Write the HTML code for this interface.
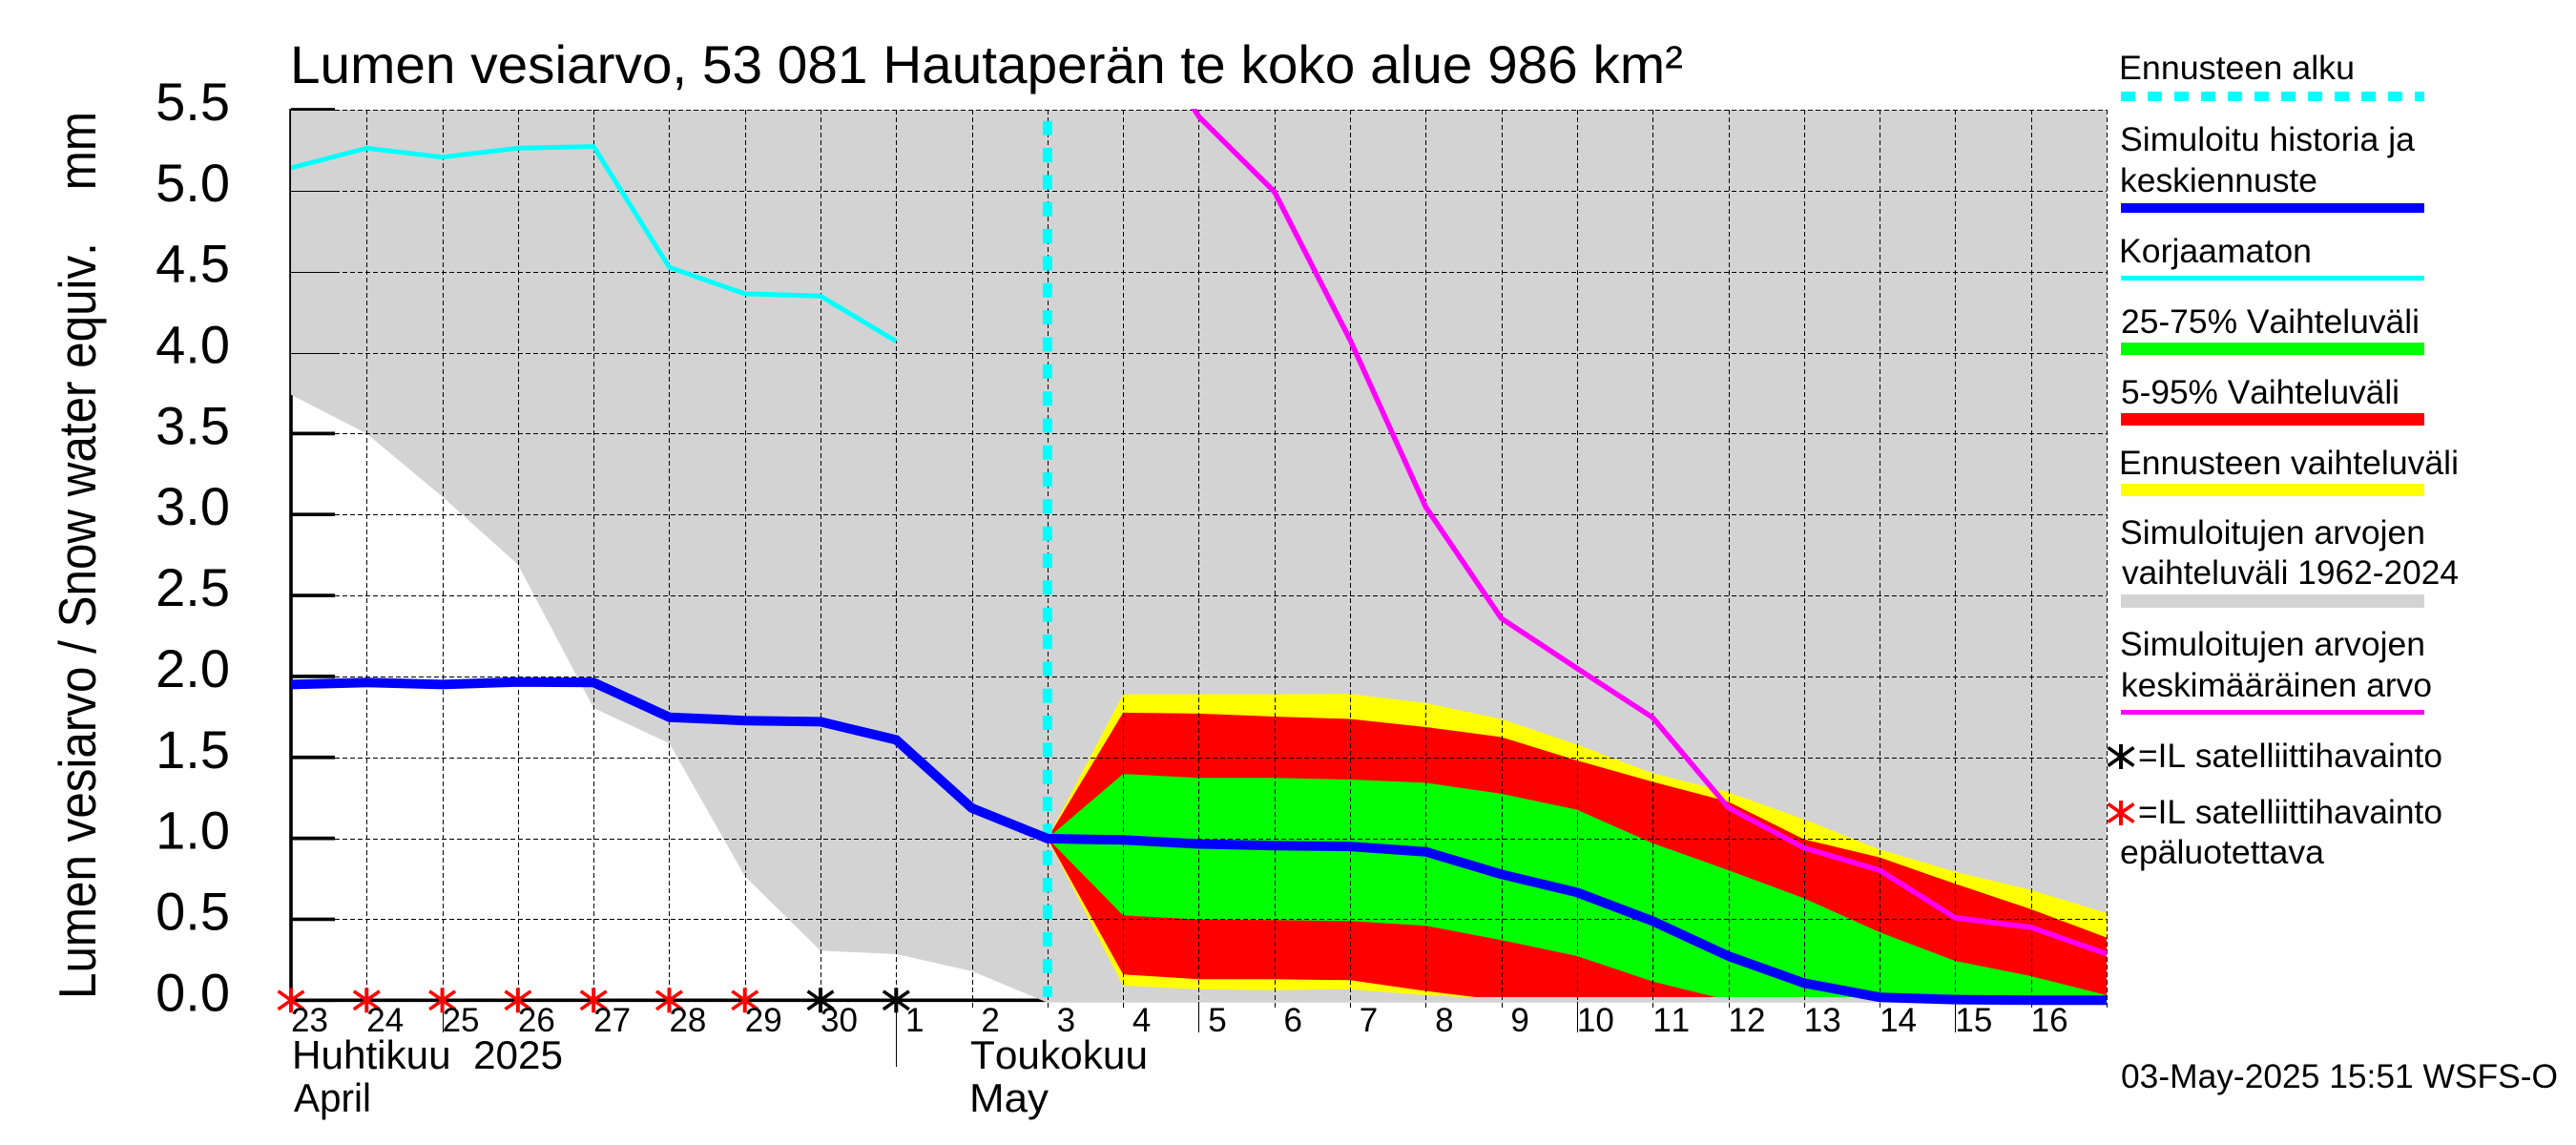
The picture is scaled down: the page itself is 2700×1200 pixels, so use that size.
<!DOCTYPE html>
<html lang="fi">
<head>
<meta charset="utf-8">
<title>Lumen vesiarvo</title>
<style>
html,body{margin:0;padding:0;background:#fff;}
svg{display:block;}
text{font-family:"Liberation Sans",Arial,sans-serif;fill:#000;white-space:pre;font-kerning:none;}
.leg{font-size:35px;}
</style>
</head>
<body>
<svg id="chart" xmlns="http://www.w3.org/2000/svg" width="2700" height="1200" viewBox="0 0 2700 1200">
  <rect x="0" y="0" width="2700" height="1200" fill="#fff"/>
  <defs>
    <clipPath id="plot-clip"><rect x="305" y="115" width="1903" height="930"/></clipPath>
    <clipPath id="line-clip"><rect x="305" y="114" width="1905" height="940"/></clipPath>
  </defs>
  <g id="axes-under"></g>
  <g id="fills"></g>
  <g id="grid" shape-rendering="crispEdges"></g>
  <g id="lines"></g>
  <g id="stars"></g>
  <g id="labels"></g>

  <text x="304" y="87" font-size="55.7" textLength="1460" lengthAdjust="spacingAndGlyphs">Lumen vesiarvo, 53 081 Hautaperän te koko alue 986 km²</text>
  <text transform="translate(100,1047) rotate(-90) scale(1,1.1)" font-size="49.4" textLength="930" lengthAdjust="spacingAndGlyphs">Lumen vesiarvo / Snow water equiv.    mm</text>
  <text x="306" y="1120" font-size="42" textLength="284" lengthAdjust="spacingAndGlyphs">Huhtikuu  2025</text>
  <text x="308" y="1165" font-size="42" textLength="81" lengthAdjust="spacingAndGlyphs">April</text>
  <text x="1017" y="1120" font-size="42" textLength="186" lengthAdjust="spacingAndGlyphs">Toukokuu</text>
  <text x="1016" y="1165" font-size="42" textLength="83" lengthAdjust="spacingAndGlyphs">May</text>

  <g id="legend">
    <text class="leg" x="2221" y="83" textLength="247" lengthAdjust="spacingAndGlyphs">Ennusteen alku</text>
    <line x1="2223" x2="2541" y1="101" y2="101" stroke="#00ffff" stroke-width="10" stroke-dasharray="15 13"/>
    <text class="leg" x="2222" y="158" textLength="309" lengthAdjust="spacingAndGlyphs">Simuloitu historia ja</text>
    <text class="leg" x="2222" y="201" textLength="207" lengthAdjust="spacingAndGlyphs">keskiennuste</text>
    <rect x="2223" y="213" width="318" height="10" fill="#0000ff"/>
    <text class="leg" x="2221" y="275" textLength="202" lengthAdjust="spacingAndGlyphs">Korjaamaton</text>
    <rect x="2223" y="289" width="318" height="5" fill="#00ffff"/>
    <text class="leg" x="2223" y="349" textLength="313" lengthAdjust="spacingAndGlyphs">25-75% Vaihteluväli</text>
    <rect x="2223" y="359" width="318" height="13" fill="#00ff00"/>
    <text class="leg" x="2223" y="423" textLength="292" lengthAdjust="spacingAndGlyphs">5-95% Vaihteluväli</text>
    <rect x="2223" y="433" width="318" height="13" fill="#ff0000"/>
    <text class="leg" x="2221" y="497" textLength="356" lengthAdjust="spacingAndGlyphs">Ennusteen vaihteluväli</text>
    <rect x="2223" y="507" width="318" height="13" fill="#ffff00"/>
    <text class="leg" x="2222" y="570" textLength="320" lengthAdjust="spacingAndGlyphs">Simuloitujen arvojen</text>
    <text class="leg" x="2224" y="612" textLength="353" lengthAdjust="spacingAndGlyphs">vaihteluväli 1962-2024</text>
    <rect x="2223" y="623" width="318" height="14" fill="#d3d3d3"/>
    <text class="leg" x="2222" y="687" textLength="320" lengthAdjust="spacingAndGlyphs">Simuloitujen arvojen</text>
    <text class="leg" x="2223" y="730" textLength="326" lengthAdjust="spacingAndGlyphs">keskimääräinen arvo</text>
    <rect x="2223" y="744" width="318" height="5" fill="#ff00ff"/>
    <g id="legend-star-black"></g>
    <text class="leg" x="2241" y="804" textLength="319" lengthAdjust="spacingAndGlyphs">=IL satelliittihavainto</text>
    <g id="legend-star-red"></g>
    <text class="leg" x="2241" y="863" textLength="319" lengthAdjust="spacingAndGlyphs">=IL satelliittihavainto</text>
    <text class="leg" x="2222" y="905" textLength="214" lengthAdjust="spacingAndGlyphs">epäluotettava</text>
  </g>
  <text class="leg" x="2223" y="1140" textLength="458" lengthAdjust="spacingAndGlyphs">03-May-2025 15:51 WSFS-O</text>
</svg>

<script>
// ---- chart data (index 0 = 23 April, one entry per day) ----
const dayLabels = ['23','24','25','26','27','28','29','30',' 1',' 2',' 3',' 4',' 5',' 6',' 7',' 8',' 9','10','11','12','13','14','15','16'];
const yTickValues = [0, 0.5, 1, 1.5, 2, 2.5, 3, 3.5, 4, 4.5, 5, 5.5];
const yTickLabels = ['0.0','0.5','1.0','1.5','2.0','2.5','3.0','3.5','4.0','4.5','5.0','5.5'];
const longTickDays = [2, 12, 17, 22];
const monthTickDay = 8;
const forecastStartDay = 10;
const firstForecastDay = 10;

const histRangeLow = [3.74,3.50,3.11,2.69,1.805,1.587,0.766,0.306,0.285,0.18,-0.015,-0.015,-0.015,-0.015,-0.015,-0.015,-0.015,-0.015,-0.015,-0.015,-0.015,-0.015,-0.015,-0.015,-0.015];
const histRangeHigh = [5.5,5.5,5.5,5.5,5.5,5.5,5.5,5.5,5.5,5.5,5.5,5.5,5.5,5.5,5.5,5.5,5.5,5.5,5.5,5.5,5.5,5.5,5.5,5.5,5.5];

const uncorrected = [5.14,5.262,5.207,5.262,5.272,4.526,4.363,4.349,4.07];
const simulated = [1.95,1.962,1.95,1.966,1.962,1.748,1.727,1.72,1.608,1.187,0.998,0.99,0.965,0.955,0.95,0.917,0.778,0.666,0.489,0.273,0.106,0.018,0.004,0.0,0.0];
const meanFirstDay = 11;
const historicMean = [6.2,5.457,4.993,4.078,3.046,2.358,2.05,1.746,1.19,0.941,0.803,0.509,0.45,0.287];

const forecastMax = [1.0,1.89,1.89,1.89,1.893,1.835,1.737,1.579,1.402,1.285,1.118,0.931,0.794,0.682,0.538];
const forecastMin = [1.0,0.09,0.067,0.063,0.067,0.031,0.008,0,0,0,0,0,0,0,0];
const p95 = [1.0,1.776,1.77,1.752,1.737,1.687,1.625,1.481,1.349,1.226,0.994,0.882,0.719,0.562,0.387];
const p05 = [1.0,0.159,0.13,0.13,0.124,0.057,0,0,0,0,0,0,0,0,0];
const p75 = [1.0,1.398,1.373,1.373,1.363,1.343,1.275,1.177,0.97,0.803,0.63,0.42,0.243,0.149,0.031];
const p25 = [1.0,0.524,0.499,0.495,0.489,0.46,0.371,0.273,0.116,0,0,0,0,0,0];

const obsDays = [0,1,2,3,4,5,6,7,8];
const obsValues = [0,0,0,0,0,0,0,0,0];
const obsUnreliable = [1,1,1,1,1,1,1,0,0];

// ---- scales ----
function xScale(day){ return 305 + day * 79.29; }
function yScale(v){ return 1048.3 - v * 169.7; }

const NS = 'http://www.w3.org/2000/svg';
function mk(tag, parent){
  const el = document.createElementNS(NS, tag);
  parent.appendChild(el);
  return el;
}
function seriesPoints(values, first){
  return values.map(function(v, i){ return xScale(first + i).toFixed(1) + ',' + yScale(v).toFixed(1); });
}
function band(upper, lower, first, color, name, parent){
  const p = mk('polygon', parent);
  
  
  p.setAttribute('points', seriesPoints(upper, first).concat(seriesPoints(lower, first).reverse()).join(' '));
  p.setAttribute('fill', color);
  return p;
}
function polyline(values, first, color, width, name, parent){
  const p = mk('polyline', parent);
  
  
  p.setAttribute('points', seriesPoints(values, first).join(' '));
  p.setAttribute('fill', 'none');
  p.setAttribute('stroke', color);
  p.setAttribute('stroke-width', width);
  p.setAttribute('stroke-linejoin', 'round');
  return p;
}
function seg(parent, x1, y1, x2, y2, color, width, dash){
  const l = mk('line', parent);
  l.setAttribute('x1', x1);
  l.setAttribute('y1', y1);
  l.setAttribute('x2', x2);
  l.setAttribute('y2', y2);
  l.setAttribute('stroke', color);
  l.setAttribute('stroke-width', width);
  if (dash) l.setAttribute('stroke-dasharray', dash);
  return l;
}
function star(parent, cx, cy, color){
  seg(parent, cx, cy - 13, cx, cy + 13, color, 4);
  seg(parent, cx - 13.5, cy - 9.5, cx + 13.5, cy + 9.5, color, 3.6);
  seg(parent, cx - 13.5, cy + 9.5, cx + 13.5, cy - 9.5, color, 3.6);
}
function snap(p){ return Math.round(p) + 0.5; }

const axesG = document.getElementById('axes-under');
const fillsG = document.getElementById('fills');
const gridG = document.getElementById('grid');
const linesG = document.getElementById('lines');
const starsG = document.getElementById('stars');
const labelsG = document.getElementById('labels');

// ---- axes drawn beneath the historic range fill ----
const yAxisLine = seg(axesG, xScale(0), 114, xScale(0), 1049.5, '#000', 3.6);


const xAxisLine = seg(axesG, xScale(0), yScale(0), xScale(24), yScale(0), '#000', 3.6);


yTickValues.forEach(function(v){
  const t = seg(axesG, xScale(0), yScale(v), xScale(0) + 46, yScale(v), '#000', 3.7);
  
  
});

// ---- fills ----
const histBand = band(histRangeHigh, histRangeLow, 0, '#d3d3d3', 'historic-range-band', fillsG);
const clipped = mk('g', fillsG);


clipped.setAttribute('clip-path', 'url(#plot-clip)');
band(forecastMax, forecastMin, firstForecastDay, '#ffff00', 'forecast-range-band', clipped);
band(p95, p05, firstForecastDay, '#ff0000', 'band-5-95', clipped);
band(p75, p25, firstForecastDay, '#00ff00', 'band-25-75', clipped);

// ---- grid ----
yTickValues.forEach(function(v){
  const y = snap(yScale(v));
  if (v > 0) {
    const solid = seg(gridG, xScale(0), y, xScale(0) + 46, y, '#000', 1);
    
    
    const g = seg(gridG, xScale(0) + 46, y, xScale(24), y, '#000', 1, '5 3');
    
    
  }
});
dayLabels.concat(['']).forEach(function(lab, i){
  const x = snap(xScale(i));
  if (i > 0) {
    const g = seg(gridG, x, 115, x, 1057, '#000', 1, '5 3');
    
    
  }
});
longTickDays.forEach(function(d){
  const t = seg(gridG, snap(xScale(d)), 1050, snap(xScale(d)), 1082, '#000', 1);
  
  
});
const monthTick = seg(gridG, snap(xScale(monthTickDay)), 1050, snap(xScale(monthTickDay)), 1118, '#000', 1);



// ---- series lines ----
const lineClip = mk('g', linesG);


lineClip.setAttribute('clip-path', 'url(#line-clip)');
polyline(uncorrected, 0, '#00ffff', 5, 'uncorrected-line', lineClip);
polyline(historicMean, meanFirstDay, '#ff00ff', 5.5, 'historic-mean-line', lineClip);
const startLine = seg(lineClip, xScale(forecastStartDay), 126.8, xScale(forecastStartDay), 1045, '#00ffff', 10, '15 13.33');


polyline(simulated, 0, '#0000ff', 10, 'simulated-line', lineClip);

// ---- satellite observation markers ----
obsDays.forEach(function(d, i){
  const g = mk('g', starsG);
  
  
  star(g, xScale(d), yScale(obsValues[i]), obsUnreliable[i] ? '#ff0000' : '#000000');
});
star(document.getElementById('legend-star-black'), 2223, 793, '#000000');
star(document.getElementById('legend-star-red'), 2223, 852, '#ff0000');

// ---- tick labels ----
yTickValues.forEach(function(v, i){
  const t = mk('text', labelsG);
  
  
  t.setAttribute('x', 241);
  t.setAttribute('y', yScale(v) + 11);
  t.setAttribute('text-anchor', 'end');
  t.setAttribute('font-size', 56);
  t.textContent = yTickLabels[i];
});
dayLabels.forEach(function(lab, i){
  const t = mk('text', labelsG);
  
  
  t.setAttribute('x', xScale(i));
  t.setAttribute('y', 1081);
  t.setAttribute('font-size', 35);
  t.textContent = lab;
});
</script>
</body>
</html>
